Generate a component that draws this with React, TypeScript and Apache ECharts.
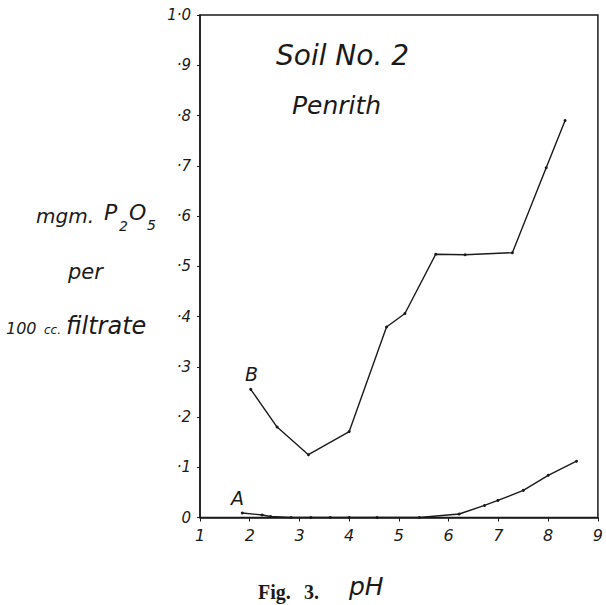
import React, { useEffect, useRef } from "react";
import * as echarts from "echarts";

const seriesA: [number, number][] = [
  [1.85, 0.009], [2.25, 0.005], [2.42, 0.002], [2.83, 0], [3.23, 0], [3.62, 0],
  [4.0, 0], [4.56, 0], [5.41, 0], [6.21, 0.007], [6.72, 0.024], [6.99, 0.034],
  [7.5, 0.054], [8.0, 0.084], [8.57, 0.112],
];
const seriesB: [number, number][] = [
  [2.02, 0.255], [2.55, 0.18], [3.18, 0.125], [4.0, 0.171], [4.75, 0.379],
  [5.12, 0.406], [5.74, 0.524], [6.33, 0.523], [7.28, 0.527], [7.96, 0.696],
  [8.34, 0.79],
];
const yTickLabels: Record<string, string> = {
  "0": "0", "1": "·1", "2": "·2", "3": "·3", "4": "·4", "5": "·5",
  "6": "·6", "7": "·7", "8": "·8", "9": "·9", "10": "1·0",
};

const HAND = "'DejaVu Sans', sans-serif";
const INK = "#1a1a1a";

export default function App() {
  const ref = useRef<HTMLDivElement>(null);
  useEffect(() => {
    if (!ref.current) return;
    const chart = echarts.init(ref.current, null, { renderer: "svg" });
    const txt = (x: number, y: number, text: string, size: number, extra: any = {}) => ({
      type: "text",
      x,
      y,
      style: {
        text,
        fill: INK,
        font: `italic 300 ${size}px ${HAND}`,
        textVerticalAlign: "middle",
        ...extra,
      },
    });
    const serif = (x: number, y: number, text: string) => ({
      type: "text",
      x,
      y,
      style: {
        text,
        fill: INK,
        font: "bold 20px 'Liberation Serif', serif",
        textVerticalAlign: "middle",
      },
    });
    chart.setOption({
      animation: false,
      backgroundColor: "#ffffff",
      grid: {
        left: 200,
        top: 15,
        width: 404,
        height: 502.5,
        show: true,
        borderColor: INK,
        borderWidth: 1.5,
        backgroundColor: "transparent",
      },
      xAxis: {
        type: "value",
        min: 1,
        max: 9,
        interval: 1,
        axisLine: { lineStyle: { color: INK, width: 1.5 } },
        axisTick: { show: true, length: 4, lineStyle: { color: INK } },
        splitLine: { show: false },
        axisLabel: {
          color: INK,
          fontFamily: HAND,
          fontStyle: "italic",
          fontWeight: 300,
          fontSize: 16,
          margin: 10,
        },
      },
      yAxis: {
        type: "value",
        min: 0,
        max: 1,
        interval: 0.1,
        axisLine: { lineStyle: { color: INK, width: 1.5 } },
        axisTick: { show: true, length: 3, lineStyle: { color: INK } },
        splitLine: { show: false },
        axisLabel: {
          color: INK,
          fontFamily: HAND,
          fontStyle: "italic",
          fontWeight: 300,
          fontSize: 15,
          margin: 9,
          formatter: (v: number) => yTickLabels[String(Math.round(v * 10))] ?? "",
        },
      },
      series: [
        {
          type: "line",
          name: "A",
          data: seriesA,
          symbol: "circle",
          symbolSize: 3,
          itemStyle: { color: INK },
          lineStyle: { color: INK, width: 1.4 },
        },
        {
          type: "line",
          name: "B",
          data: seriesB,
          symbol: "circle",
          symbolSize: 3,
          itemStyle: { color: INK },
          lineStyle: { color: INK, width: 1.4 },
        },
      ],
      graphic: [
        txt(276, 55, "Soil No. 2", 28),
        txt(292, 105, "Penrith", 25),
        txt(36, 216, "mgm.", 20),
        txt(104, 212, "P", 22),
        txt(119, 226, "2", 14),
        txt(129, 212, "O", 22),
        txt(147, 225, "5", 14),
        txt(68, 272, "per", 21),
        txt(6, 328, "100", 16),
        txt(44, 330, "cc.", 12),
        txt(66, 326, "filtrate", 24),
        txt(245, 374, "B", 19),
        txt(231, 498, "A", 19),
        serif(258, 592, "Fig."),
        serif(304, 592, "3."),
        txt(349, 586, "pH", 25),
      ],
    });
    return () => chart.dispose();
  }, []);
  return (
    <div
      ref={ref}
      style={{ position: "fixed", left: 0, top: 0, width: 606, height: 605 }}
    />
  );
}
